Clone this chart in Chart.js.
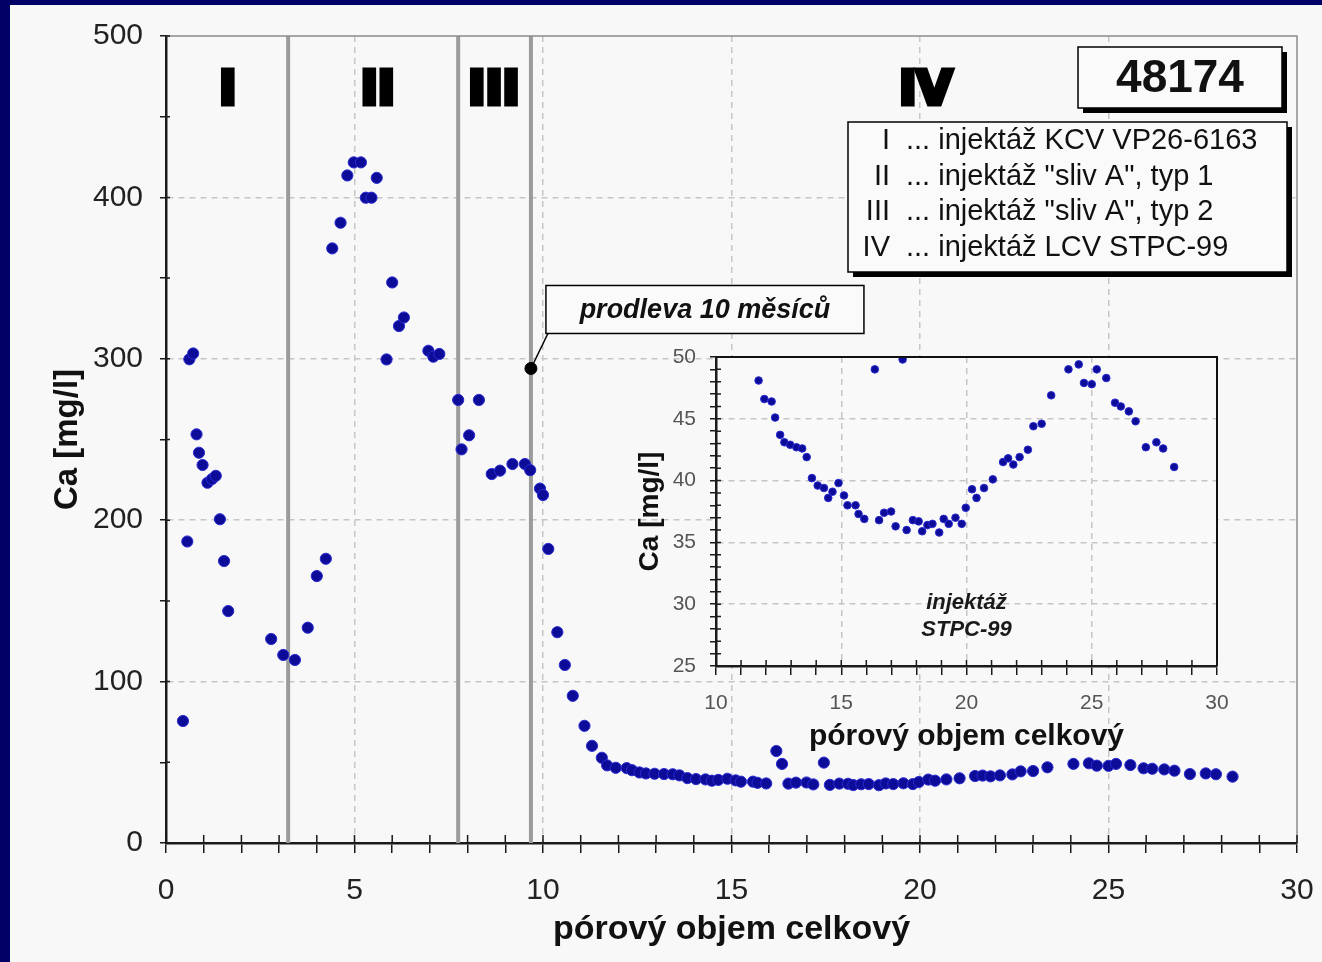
<!DOCTYPE html>
<html>
<head>
<meta charset="utf-8">
<script src="https://cdn.jsdelivr.net/npm/chart.js@4.4.0/dist/chart.umd.min.js"></script>
<style>
  html, body { margin: 0; padding: 0; background: #f8f8f8; }
  #page { position: relative; width: 1322px; height: 962px; overflow: hidden; background: #f8f8f8; }
  #edgeLeft { position: absolute; left: 0; top: 0; width: 10px; height: 962px; background: #000066; }
  #edgeTop { position: absolute; left: 0; top: 0; width: 1322px; height: 5px; background: #000066; }
  #main { position: absolute; left: 10px; top: 5px; }
  #inset { position: absolute; left: 625px; top: 340px; }
</style>
</head>
<body>
<div id="page">
  <div id="edgeLeft"></div>
  <div id="edgeTop"></div>
  <canvas id="main" width="1312" height="957"></canvas>
  <canvas id="inset" width="620" height="420"></canvas>
</div>
<script>
// vrt 48174 – Ca vs. pórový objem

const poreVolume = [
  0.45, 0.565, 0.62, 0.72, 0.81, 0.875, 0.97, 1.10, 1.22, 1.32,
  1.43, 1.54, 1.65, 2.79, 3.11, 3.42, 3.76, 4.00, 4.24, 4.41,
  4.63, 4.81, 4.98, 5.17, 5.30, 5.45, 5.59, 5.85, 6.00, 6.18,
  6.31, 6.96, 7.09, 7.25, 7.75, 7.84, 8.04, 8.30, 8.64, 8.86,
  9.19, 9.52, 9.66, 9.92, 10.00, 10.14, 10.38, 10.58, 10.79, 11.10,
  11.30, 11.56, 11.70, 11.93, 12.22, 12.36, 12.56, 12.73, 12.96, 13.21,
  13.44, 13.62, 13.83, 14.06, 14.31, 14.48, 14.65, 14.89, 15.11, 15.25,
  15.57, 15.69, 15.92, 16.19, 16.34, 16.51, 16.71, 16.99, 17.17, 17.45,
  17.61, 17.86, 18.09, 18.23, 18.44, 18.64, 18.91, 19.09, 19.29, 19.56,
  19.81, 19.97, 20.22, 20.40, 20.70, 21.05, 21.46, 21.66, 21.87, 22.12,
  22.45, 22.67, 23.00, 23.38, 24.07, 24.48, 24.69, 25.00, 25.20, 25.58,
  25.93, 26.16, 26.48, 26.75, 27.16, 27.58, 27.85, 28.29
];
const calcium = [
  75.6, 186.8, 299.7, 303.3, 253.2, 241.8, 234.2, 223.2, 225.5, 227.5,
  200.6, 174.7, 143.7, 126.4, 116.5, 113.4, 133.4, 165.4, 176.1, 368.4,
  384.3, 413.6, 421.7, 421.7, 399.8, 399.8, 412.1, 299.6, 347.3, 320.3,
  325.6, 305.0, 301.3, 303.0, 274.5, 243.9, 252.6, 274.5, 228.6, 230.7,
  234.8, 234.8, 231.0, 219.6, 215.6, 182.2, 130.6, 110.3, 91.2, 72.6,
  60.2, 52.8, 48.1, 46.6, 46.4, 45.1, 43.7, 43.1, 42.9, 42.7,
  42.6, 41.9, 40.2, 39.6, 39.4, 38.6, 39.1, 39.8, 38.8, 38.0,
  38.0, 37.3, 36.9, 57.0, 49.0, 36.8, 37.4, 37.5, 36.3, 49.8,
  36.0, 36.8, 36.7, 35.9, 36.4, 36.5, 35.8, 36.9, 36.5, 37.0,
  36.5, 37.8, 39.3, 38.6, 39.4, 40.1, 41.5, 41.8, 41.3, 41.9,
  42.5, 44.4, 44.6, 46.9, 49.0, 49.4, 47.9, 47.8, 49.0, 48.3,
  46.3, 46.0, 45.6, 44.8, 42.7, 43.1, 42.6, 41.1
];

// hranice injektáží I|II|III|IV a popisky
const regionBounds = [3.24, 7.75, 9.68];
const regionNames = ['I', 'II', 'III', 'IV'];
const regionLabelX = [1.64, 5.62, 8.70, 20.15];
const regionLabelY = 465;
const regionDescriptions = [
  '... injektáž KCV VP26-6163',
  '... injektáž "sliv A", typ 1',
  '... injektáž "sliv A", typ 2',
  '... injektáž LCV STPC-99'
];

const pauseMark = [9.68, 294];
const pauseText = 'prodleva 10 měsíců';
const wellId = '48174';

const mainXTicks = [0, 30, 1, 5];      // min, max, krok, krok popisku
const mainYTicks = [0, 500, 50, 100];
const insetXTicks = [10, 30, 1, 5];
const insetYTicks = [25, 50, 1, 5];
const insetNote = ['injektáž', 'STPC-99'];
const insetNotePos = [20, 30.1, 27.9];

const xTitle = 'pórový objem celkový';
const yTitle = 'Ca [mg/l]';

const FONT = '"Liberation Sans", Arial, sans-serif';
const GRID = '#c6c6c6';

const points = poreVolume.map((x, i) => ({ x, y: calcium[i] }));

// pevná velikost os, bez automatického odsazení kvůli popiskům
function fixX(h){ return s => { s.height = h; s.paddingLeft = 0; s.paddingRight = 0; }; }
function fixY(w){ return s => { s.width = w; s.paddingTop = 0; s.paddingBottom = 0; }; }

function scaleOpts(t, o){
  const [min, max, step, major] = t;
  return {
    type: 'linear', min, max,
    afterFit: o.fit,
    ticks: {
      stepSize: step, autoSkip: false, maxRotation: 0, padding: o.pad,
      color: o.tickColor, font: { family: FONT, size: o.size },
      callback: v => (Math.abs(v % major) < 1e-6 ? v : '')
    },
    grid: {
      color: c => {
        const v = c.tick ? c.tick.value : NaN;
        return (Math.abs(v % major) < 1e-6 && v > min && v < max) ? GRID : 'transparent';
      },
      lineWidth: 1.5, tickColor: '#1a1a1a', tickLength: o.tickLen, tickWidth: 1.5
    },
    border: { color: '#1a1a1a', width: 2.5, dash: [6, 5] },
    title: {
      display: true, text: o.title, color: '#111',
      font: { family: FONT, size: o.titleSize, weight: 'bold' },
      padding: o.titlePad
    }
  };
}

// krátké značky dovnitř grafu (osy mají značky přes čáru)
function innerTicks(chart, inX, inY){
  const { ctx, chartArea: a, scales: { x, y } } = chart;
  ctx.save();
  ctx.strokeStyle = '#1a1a1a';
  ctx.lineWidth = 1.5;
  ctx.beginPath();
  x.ticks.forEach(t => { const p = x.getPixelForValue(t.value); ctx.moveTo(p, a.bottom); ctx.lineTo(p, a.bottom - inX); });
  y.ticks.forEach(t => { const p = y.getPixelForValue(t.value); ctx.moveTo(a.left, p); ctx.lineTo(a.left + inY, p); });
  ctx.stroke();
  ctx.restore();
}

function shadowBox(ctx, x, y, w, h, off){
  ctx.fillStyle = '#000';
  ctx.fillRect(x + off, y + off, w, h);
  ctx.fillStyle = '#fafafa';
  ctx.fillRect(x, y, w, h);
  ctx.strokeStyle = '#000';
  ctx.lineWidth = 1.5;
  ctx.strokeRect(x, y, w, h);
}

const mainDecor = {
  id: 'mainDecor',
  afterDatasetsDraw(chart){
    const { ctx, chartArea: a, scales: { x, y } } = chart;
    ctx.save();
    // horní a pravý rámeček
    ctx.strokeStyle = '#8a8a8a';
    ctx.lineWidth = 1.5;
    ctx.beginPath();
    ctx.moveTo(a.left, a.top); ctx.lineTo(a.right, a.top); ctx.lineTo(a.right, a.bottom);
    ctx.stroke();

    // římské číslice
    ctx.font = 'bold 46px "DejaVu Sans", sans-serif';
    ctx.textAlign = 'center';
    ctx.textBaseline = 'middle';
    ctx.fillStyle = '#000';
    ctx.strokeStyle = '#000';
    ctx.lineWidth = 5;
    regionNames.forEach((n, i) => {
      const px = x.getPixelForValue(regionLabelX[i]);
      const py = y.getPixelForValue(regionLabelY);
      ctx.fillText(n, px, py);
      ctx.strokeText(n, px, py);
    });

    // prodleva – odkaz
    const dx = x.getPixelForValue(pauseMark[0]);
    const dy = y.getPixelForValue(pauseMark[1]);
    ctx.strokeStyle = '#000';
    ctx.lineWidth = 1.5;
    ctx.beginPath(); ctx.moveTo(dx, dy); ctx.lineTo(dx + 17, dy - 35); ctx.stroke();
    const bx = dx + 15, by = dy - 83, bw = 318, bh = 48;
    ctx.fillStyle = '#fafafa';
    ctx.fillRect(bx, by, bw, bh);
    ctx.strokeRect(bx, by, bw, bh);
    ctx.fillStyle = '#111';
    ctx.font = `italic bold 27px ${FONT}`;
    ctx.fillText(pauseText, bx + bw / 2, by + bh / 2 + 1);

    // číslo vrtu
    const ix = a.right - 219, iy = a.top + 11;
    shadowBox(ctx, ix, iy, 204, 61, 5);
    ctx.fillStyle = '#111';
    ctx.font = `bold 46px ${FONT}`;
    ctx.textAlign = 'center';
    ctx.fillText(wellId, ix + 102, iy + 32);

    // legenda injektáží
    const lx = a.right - 449, ly = a.top + 86;
    shadowBox(ctx, lx, ly, 439, 150, 5);
    ctx.font = `29px ${FONT}`;
    ctx.fillStyle = '#111';
    regionNames.forEach((n, i) => {
      const ty = ly + 19 + i * 35.7;
      ctx.textAlign = 'right';
      ctx.fillText(n, lx + 42, ty);
      ctx.textAlign = 'left';
      ctx.fillText(regionDescriptions[i], lx + 58, ty);
    });
    ctx.restore();
  },
  afterDraw(chart){ innerTicks(chart, 8, 4); }
};

const insetDecor = {
  id: 'insetDecor',
  beforeDraw(chart){
    const { ctx, chartArea: a } = chart;
    ctx.save();
    ctx.fillStyle = '#f9f9f9';
    ctx.fillRect(a.left, a.top, a.right - a.left, a.bottom - a.top);
    ctx.restore();
  },
  afterDatasetsDraw(chart){
    const { ctx, chartArea: a, scales: { x, y } } = chart;
    ctx.save();
    ctx.strokeStyle = '#111';
    ctx.lineWidth = 2;
    ctx.beginPath();
    ctx.moveTo(a.left, a.top); ctx.lineTo(a.right, a.top); ctx.lineTo(a.right, a.bottom);
    ctx.stroke();
    ctx.fillStyle = '#1a1a1a';
    ctx.font = `italic bold 22px ${FONT}`;
    ctx.textAlign = 'center';
    ctx.textBaseline = 'middle';
    const px = x.getPixelForValue(insetNotePos[0]);
    ctx.fillText(insetNote[0], px, y.getPixelForValue(insetNotePos[1]));
    ctx.fillText(insetNote[1], px, y.getPixelForValue(insetNotePos[2]));
    ctx.restore();
  },
  afterDraw(chart){ innerTicks(chart, 6, 5); }
};

const yMax = mainYTicks[1];
const regionSets = regionBounds.map(b => ({
  data: [{ x: b, y: mainYTicks[0] }, { x: b, y: yMax }],
  showLine: true, borderColor: '#9b9b9b', borderWidth: 4, pointRadius: 0, order: 3
}));

new Chart(document.getElementById('main'), {
  type: 'scatter',
  data: {
    datasets: [
      ...regionSets,
      { data: points, pointRadius: 5.6, backgroundColor: '#0c0c98', borderColor: '#2a2ad2', borderWidth: 1, order: 1 },
      { data: [{ x: pauseMark[0], y: pauseMark[1] }], pointRadius: 6, backgroundColor: '#000', borderColor: '#000', order: 0 }
    ]
  },
  options: {
    responsive: false,
    animation: false,
    layout: { padding: { left: 0, top: 31, right: 25, bottom: 0 } },
    plugins: { legend: { display: false }, tooltip: { enabled: false } },
    scales: {
      x: scaleOpts(mainXTicks, { fit: fixX(119), pad: 20, tickColor: '#222', size: 30, tickLen: 10,
        title: xTitle, titleSize: 34, titlePad: { top: 0, bottom: 12 } }),
      y: scaleOpts(mainYTicks, { fit: fixY(156), pad: 17, tickColor: '#222', size: 30, tickLen: 6,
        title: yTitle, titleSize: 33, titlePad: { top: 38, bottom: 0 } })
    }
  },
  plugins: [mainDecor]
});

new Chart(document.getElementById('inset'), {
  type: 'scatter',
  data: {
    datasets: [
      { data: points, pointRadius: 3.8, backgroundColor: '#0c0c98', borderColor: '#2a2ad2', borderWidth: 1 }
    ]
  },
  options: {
    responsive: false,
    animation: false,
    layout: { padding: { left: 0, top: 17, right: 28, bottom: 0 } },
    plugins: { legend: { display: false }, tooltip: { enabled: false } },
    scales: {
      x: scaleOpts(insetXTicks, { fit: fixX(94), pad: 16, tickColor: '#555', size: 21, tickLen: 9,
        title: xTitle, titleSize: 30, titlePad: { top: 0, bottom: 5 } }),
      y: scaleOpts(insetYTicks, { fit: fixY(91), pad: 14, tickColor: '#555', size: 21, tickLen: 6,
        title: yTitle, titleSize: 28, titlePad: { top: 8, bottom: 0 } })
    }
  },
  plugins: [insetDecor]
});
</script>
</body>
</html>
